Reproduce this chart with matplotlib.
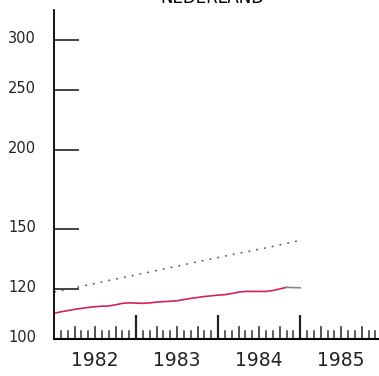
import matplotlib.pyplot as plt
import matplotlib.transforms as mtransforms
from matplotlib.ticker import FixedLocator, NullFormatter, NullLocator

# Monthly index values, Jan 1982 .. Jan 1985
months = list(range(37))
red_values = [109.9, 110.5, 111.0, 111.5, 111.9, 112.3, 112.6, 112.8, 112.9, 113.4, 114.0, 114.2,
              114.1, 114.0, 114.2, 114.5, 114.7, 114.9, 115.1, 115.6, 116.1, 116.5, 116.9, 117.2,
              117.5, 117.7, 118.2, 118.8, 119.1, 119.1, 119.1, 119.1, 119.5, 120.2, 120.9, 120.8, 120.7]
dotted_values = [118.8, 119.4, 120.0, 120.7, 121.3, 122.0, 122.6, 123.3, 124.0, 124.6, 125.3, 125.9,
                 126.6, 127.3, 127.9, 128.6, 129.3, 130.0, 130.7, 131.4, 132.1, 132.8, 133.5, 134.2,
                 134.9, 135.6, 136.3, 137.0, 137.7, 138.4, 139.1, 139.8, 140.5, 141.3, 142.1, 142.9, 143.7]
years = [1982, 1983, 1984, 1985]
ytick_values = [100, 120, 150, 200, 250, 300]

x = [1982 + m / 12 for m in months]

fig = plt.figure(figsize=(3.79, 3.76), dpi=100)
ax = fig.add_axes([54 / 379, 37 / 376, 325 / 379, 329 / 376])

ax.plot(x, dotted_values, color='#555555', lw=1.1, linestyle=(0, (1.2, 4)))
ax.plot(x[:35], red_values[:35], color='#d0245a', lw=1.2)
ax.plot(x[34:], red_values[34:], color='#888888', lw=1.2)

ax.set_yscale('log')
ax.set_ylim(100, 335)
ax.set_xlim(1982, 1985.96)

ax.yaxis.set_major_locator(FixedLocator(ytick_values))
ax.yaxis.set_minor_locator(NullLocator())
ax.yaxis.set_minor_formatter(NullFormatter())
ax.set_yticks(ytick_values, [str(v) for v in ytick_values])
ax.tick_params(axis='y', direction='in', length=18, width=1.2, labelsize=10.5,
               pad=13, colors='#222222')
# labels sit a little above their ticks in the original
shift = mtransforms.ScaledTranslation(0, 3 / 100, fig.dpi_scale_trans)
for lab in ax.get_yticklabels():
    lab.set_transform(lab.get_transform() + shift)

# x ticks: tall at years, medium at quarters, small at months
year_ticks = [1983, 1984, 1985]
quarter_ticks = [1982 + q / 4 for q in range(16) if q % 4 != 0]
month_ticks = [1982 + m / 12 for m in range(48) if m % 3 != 0]
ax.set_xticks(year_ticks)
ax.set_xticklabels([])
ax.tick_params(axis='x', direction='in', length=17, width=1.6, colors='#222222')
for pos in quarter_ticks:
    ax.axvline(pos, ymin=0, ymax=12.5 / 329, color='#333333', lw=1.2)
for pos in month_ticks:
    ax.axvline(pos, ymin=0, ymax=8 / 329, color='#333333', lw=1.1)

for yr in years:
    ax.text(yr + 0.5, -0.035, str(yr), transform=ax.get_xaxis_transform(),
            ha='center', va='top', fontsize=13.5, color='#222222')

ax.spines['top'].set_visible(False)
ax.spines['right'].set_visible(False)
ax.spines['left'].set_linewidth(1.3)
ax.spines['bottom'].set_linewidth(1.5)

fig.text(212 / 379, 1 - 7 / 376, 'NEDERLAND', ha='center', va='bottom', fontsize=12)

fig.savefig('out.png', dpi=100)
